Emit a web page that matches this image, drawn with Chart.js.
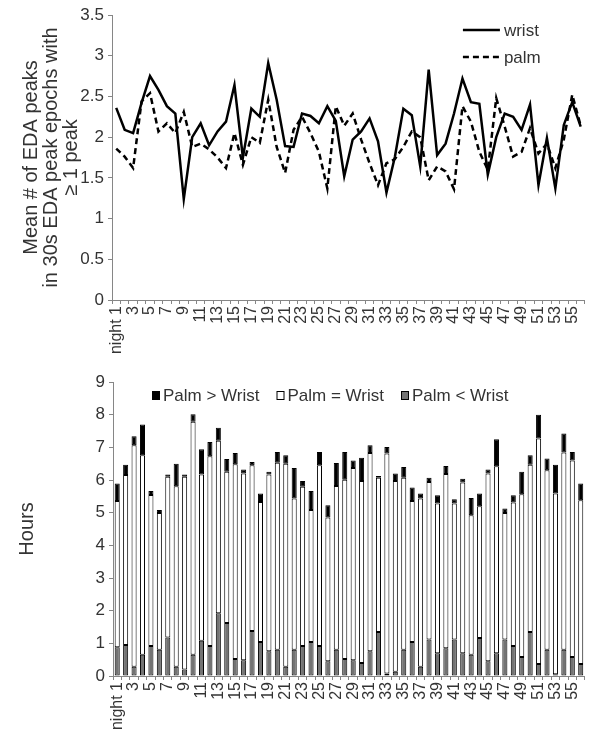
<!doctype html>
<html lang="en">
  <head>
    <meta charset="utf-8">
    <title>EDA peaks wrist vs palm</title>
    <script src="https://cdn.jsdelivr.net/npm/chart.js@4.4.0/dist/chart.umd.min.js"></script>
    <style>
      body { margin: 0; background: #fff; }
      .box { position: absolute; left: 0; }
    </style>
  </head>
  <body>
    <div class="box" style="top:0"><canvas id="lineChart" width="602" height="370"></canvas></div>
    <div class="box" style="top:340px"><canvas id="barChart" width="602" height="399"></canvas></div>

    <script>
        // night labels, shared by both panels
        const nights = ['night 1','2','3','4','5','6','7','8','9','10','11','12','13','14','15','16','17','18','19','20',
            '21','22','23','24','25','26','27','28','29','30','31','32','33','34','35','36','37','38','39','40',
            '41','42','43','44','45','46','47','48','49','50','51','52','53','54','55','56'];

        // top panel: mean # of EDA peaks
        const wrist = [2.36, 2.09, 2.05, 2.42, 2.75, 2.58, 2.38, 2.29, 1.24, 2.00, 2.17, 1.90, 2.07, 2.19, 2.64, 1.75, 2.35, 2.25, 2.91, 2.46,
            1.89, 1.88, 2.29, 2.26, 2.17, 2.38, 2.20, 1.52, 1.97, 2.07, 2.23, 1.95, 1.32, 1.76, 2.35, 2.27, 1.64, 2.83, 1.78, 1.92,
            2.29, 2.72, 2.43, 2.41, 1.54, 2.00, 2.29, 2.25, 2.09, 2.40, 1.41, 1.99, 1.37, 2.15, 2.43, 2.13];
        const palm = [1.86, 1.76, 1.62, 2.44, 2.54, 2.07, 2.17, 2.05, 2.31, 1.88, 1.92, 1.85, 1.75, 1.62, 2.05, 1.66, 2.00, 1.93, 2.46, 1.88,
            1.56, 2.09, 2.25, 2.05, 1.82, 1.37, 2.38, 2.14, 2.29, 1.97, 1.68, 1.41, 1.68, 1.73, 1.88, 2.07, 2.00, 1.47, 1.64, 1.58,
            1.36, 2.38, 2.19, 1.82, 1.60, 2.48, 2.13, 1.76, 1.82, 2.11, 1.80, 1.92, 1.62, 1.97, 2.52, 2.14];

        // bottom panel: hours per night (stacked)
        const palmLess = [0.88, 0.95, 0.28, 0.65, 0.92, 0.80, 1.18, 0.28, 0.20, 0.65, 1.08, 0.92, 1.92, 1.62, 0.52, 0.48, 1.38, 1.04, 0.76, 0.80,
            0.28, 0.80, 0.92, 1.04, 0.92, 0.45, 0.80, 0.52, 0.48, 0.40, 0.76, 1.35, 0.08, 0.13, 0.80, 1.04, 0.28, 1.12, 0.70, 0.85,
            1.12, 0.70, 0.65, 1.16, 0.45, 0.70, 1.12, 0.92, 0.58, 1.35, 0.37, 0.80, 0.05, 0.80, 0.58, 0.37];
        const palmEqual = [4.48, 5.20, 6.78, 6.11, 4.62, 4.19, 4.92, 5.53, 5.90, 7.13, 5.09, 5.81, 5.28, 4.63, 5.96, 5.72, 5.07, 4.29, 5.41, 5.73,
            6.22, 4.63, 4.87, 4.04, 5.53, 4.40, 5.02, 5.49, 5.89, 5.57, 6.07, 4.72, 6.73, 5.84, 5.27, 4.32, 5.15, 4.82, 4.58, 5.33,
            4.16, 5.22, 4.27, 4.04, 5.75, 5.72, 3.87, 4.39, 4.98, 5.12, 6.90, 5.50, 5.54, 6.04, 6.02, 5.01];
        const palmMore = [0.53, 0.32, 0.28, 0.94, 0.12, 0.09, 0.07, 0.69, 0.07, 0.23, 0.77, 0.43, 0.40, 0.39, 0.35, 0.12, 0.10, 0.26, 0.08, 0.33,
            0.26, 0.94, 0.18, 0.58, 0.41, 0.38, 0.70, 0.85, 0.23, 0.71, 0.23, 0.05, 0.20, 0.23, 0.33, 0.41, 0.16, 0.13, 0.25, 0.25,
            0.13, 0.12, 0.53, 0.39, 0.12, 0.83, 0.14, 0.22, 0.69, 0.29, 0.73, 0.36, 0.88, 0.58, 0.26, 0.51];

        const FONT = "'Liberation Sans', Arial, sans-serif";
        const TXT = '#333';
        const AXIS = '#868686';

        Chart.defaults.font.family = FONT;
        Chart.defaults.color = TXT;

        // only every other night gets a label, like the original
        function oddLabels(val, index) {
            return index % 2 === 0 ? this.getLabelForValue(val) : '';
        }

        // "3" not "3.0"
        function plainNum(v) {
            return String(Math.round(v * 10) / 10);
        }

        function xAxis(height) {
            return {
                offset: true,
                grid: { offset: true, drawOnChartArea: false, drawTicks: true, tickLength: 4, color: AXIS },
                border: { color: AXIS, width: 1 },
                ticks: { autoSkip: false, minRotation: 90, maxRotation: 90, padding: 2, font: { size: 16 }, color: TXT, callback: oddLabels },
                afterFit: function (scale) { scale.height = height; }
            };
        }

        // hand drawn legends (excel style)
        const lineLegend = {
            id: 'lineLegend',
            afterDraw(chart) {
                const ctx = chart.ctx;
                const x0 = chart.chartArea.right - 122;
                ctx.save();
                ctx.font = '17px ' + FONT;
                ctx.textBaseline = 'middle';
                chart.data.datasets.forEach(function (ds, i) {
                    const y = 30 + i * 27;
                    ctx.beginPath();
                    ctx.setLineDash(ds.borderDash || []);
                    ctx.lineWidth = ds.borderWidth;
                    ctx.strokeStyle = ds.borderColor;
                    ctx.moveTo(x0, y);
                    ctx.lineTo(x0 + 37, y);
                    ctx.stroke();
                    ctx.setLineDash([]);
                    ctx.fillStyle = TXT;
                    ctx.fillText(ds.label, x0 + 41, y + 1);
                });
                ctx.restore();
            }
        };

        const barLegend = {
            id: 'barLegend',
            afterDraw(chart) {
                const ctx = chart.ctx;
                let x = 152;
                const y = chart.chartArea.top + 13;
                ctx.save();
                ctx.font = '17px ' + FONT;
                ctx.textBaseline = 'middle';
                // legend order: top segment first
                chart.data.datasets.slice().reverse().forEach(function (ds) {
                    ctx.fillStyle = ds.backgroundColor;
                    ctx.fillRect(x, y - 4, 8, 9);
                    ctx.strokeStyle = '#000';
                    ctx.lineWidth = 1;
                    ctx.strokeRect(x + 0.5, y - 3.5, 7, 8);
                    ctx.fillStyle = TXT;
                    ctx.fillText(ds.label, x + 11, y + 1);
                    x += 11 + ctx.measureText(ds.label).width + 17;
                });
                ctx.restore();
            }
        };

        new Chart(document.getElementById('lineChart'), {
            type: 'line',
            data: {
                labels: nights,
                datasets: [
                    { label: 'wrist', data: wrist, borderColor: '#000', borderWidth: 2.5, pointRadius: 0, tension: 0 },
                    { label: 'palm', data: palm, borderColor: '#000', borderWidth: 2.5, borderDash: [6, 4], pointRadius: 0, tension: 0 }
                ]
            },
            options: {
                responsive: false,
                animation: false,
                layout: { padding: { left: 0, right: 12, top: 15, bottom: 0 } },
                plugins: { legend: { display: false }, tooltip: { enabled: false } },
                scales: {
                    x: xAxis(70),
                    y: {
                        min: 0,
                        max: 3.5,
                        ticks: { stepSize: 0.5, font: { size: 17 }, color: TXT, padding: 4, callback: plainNum },
                        grid: { drawOnChartArea: false, drawTicks: true, tickLength: 4, color: AXIS },
                        border: { color: AXIS, width: 1 },
                        title: {
                            display: true,
                            text: ['Mean # of EDA peaks', 'in 30s EDA peak epochs with', '\u2265 1 peak'],
                            font: { size: 20, lineHeight: 1 },
                            color: TXT,
                            padding: { top: 21, bottom: 0 }
                        },
                        afterFit: function (scale) { scale.width = 112; }
                    }
                }
            },
            plugins: [lineLegend]
        });

        new Chart(document.getElementById('barChart'), {
            type: 'bar',
            data: {
                labels: nights,
                datasets: [
                    { label: 'Palm < Wrist', data: palmLess, backgroundColor: '#737373' },
                    { label: 'Palm = Wrist', data: palmEqual, backgroundColor: '#ffffff' },
                    { label: 'Palm > Wrist', data: palmMore, backgroundColor: '#000000' }
                ].map(function (d) {
                    return Object.assign(d, { borderColor: '#000', borderWidth: 1, borderSkipped: false,
                        categoryPercentage: 1, barPercentage: 0.6 });
                })
            },
            options: {
                responsive: false,
                animation: false,
                layout: { padding: { left: 0, right: 9, top: 42, bottom: 0 } },
                plugins: { legend: { display: false }, tooltip: { enabled: false } },
                scales: {
                    x: Object.assign(xAxis(63), { stacked: true }),
                    y: {
                        stacked: true,
                        min: 0,
                        max: 9,
                        ticks: { stepSize: 1, font: { size: 17 }, color: TXT, padding: 4 },
                        grid: { drawOnChartArea: false, drawTicks: true, tickLength: 4, color: AXIS },
                        border: { color: AXIS, width: 1 },
                        title: { display: true, text: 'Hours', font: { size: 20, lineHeight: 1 }, color: TXT, padding: { top: 17, bottom: 0 } },
                        afterFit: function (scale) { scale.width = 113; }
                    }
                }
            },
            plugins: [barLegend]
        });
    </script>
  </body>
</html>
